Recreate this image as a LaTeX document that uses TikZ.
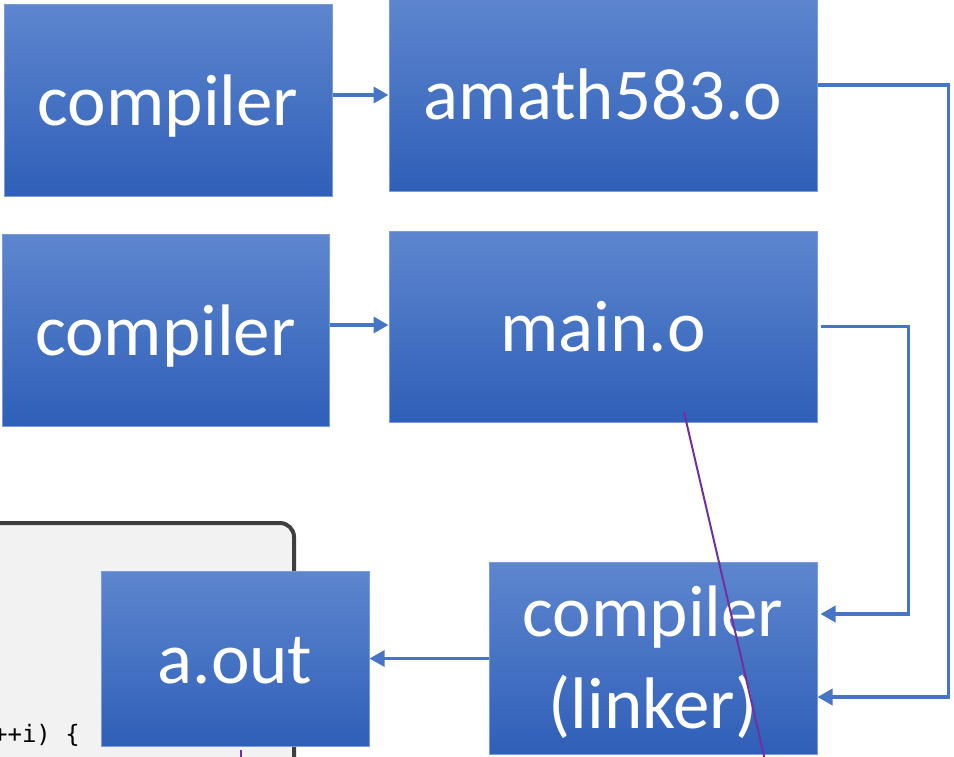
\documentclass[tikz,border=0pt]{standalone}
\usepackage{fontspec}
\setmainfont{Carlito}
\newfontfamily\codefont{DejaVu Sans Mono}
\usetikzlibrary{arrows.meta}
\definecolor{boxtop}{HTML}{5E86CF}
\definecolor{boxmid}{HTML}{4473C9}
\definecolor{boxbot}{HTML}{2F5FB8}
\definecolor{boxedge}{HTML}{7A9CDB}
\definecolor{flowblue}{HTML}{4775C6}
\definecolor{codegray}{HTML}{F2F2F2}
\definecolor{codeedge}{HTML}{3F3F3F}
\definecolor{penpurple}{HTML}{7030A0}
\begin{document}
\begin{tikzpicture}
    [
    x=1pt,y=-1pt,
    stage/.style={draw=boxedge,line width=1pt,top color=boxtop,middle color=boxmid,bottom color=boxbot,
      text=white,inner sep=0pt,align=center,font=\fontsize{73}{92}\selectfont},
    oneline/.style={text height=60pt,text depth=10pt},
    flow/.style={draw=flowblue,line width=3.5pt,-{Triangle[length=15pt,width=16pt]}},
    ]
    \useasboundingbox (0,0) rectangle (954,756);
    \clip (0,0) rectangle (954,756);
    % code window behind the output
    \draw [codeedge,fill=codegray,line width=4pt,rounded corners=14pt] (-30,523) rectangle (294,820);
    \node (code) at (80,742) [anchor=base east,font=\codefont\fontsize{24}{28}\selectfont,inner sep=0pt] {++i) \{};
    \draw [penpurple,line width=2pt] (241,750) -- (241,760);
    % stages
    \node (cmpA) at (168,100) [stage,oneline,minimum width=328pt,minimum height=192pt] {compiler};
    \node (amath) at (603,94) [stage,oneline,minimum width=428pt,minimum height=194pt] {amath583.o};
    \node (cmpB) at (165.5,330) [stage,oneline,minimum width=327pt,minimum height=192pt] {compiler};
    \node (mainobj) at (603,326.5) [stage,oneline,minimum width=428pt,minimum height=191pt] {main.o};
    \node (aout) at (235,658.5) [stage,oneline,minimum width=268pt,minimum height=175pt] {a.out};
    \node (linker) at (653,658) [stage,minimum width=328pt,minimum height=192pt] {\rule{0pt}{60pt}compiler\\(linker)};
    % connectors
    \draw [flow] ([yshift=5pt]cmpA.east) -- ([yshift=5pt]cmpA.east -| amath.west);
    \draw [flow] ([yshift=5pt]cmpB.east) -- ([yshift=5pt]cmpB.east -| mainobj.west);
    \draw [flow] ([yshift=9pt]amath.east) -- ++(131,0) |- ([yshift=-39pt]linker.east);
    \draw [flow] ([xshift=3pt]mainobj.east) -- ++(88,0) |- ([xshift=3pt,yshift=44pt]linker.east);
    \draw [flow] (linker.west |- aout.east) -- (aout.east);
    % pen stroke
    \draw [penpurple,line width=2pt] (684,412) -- (765,760);
  \end{tikzpicture}
\end{document}
